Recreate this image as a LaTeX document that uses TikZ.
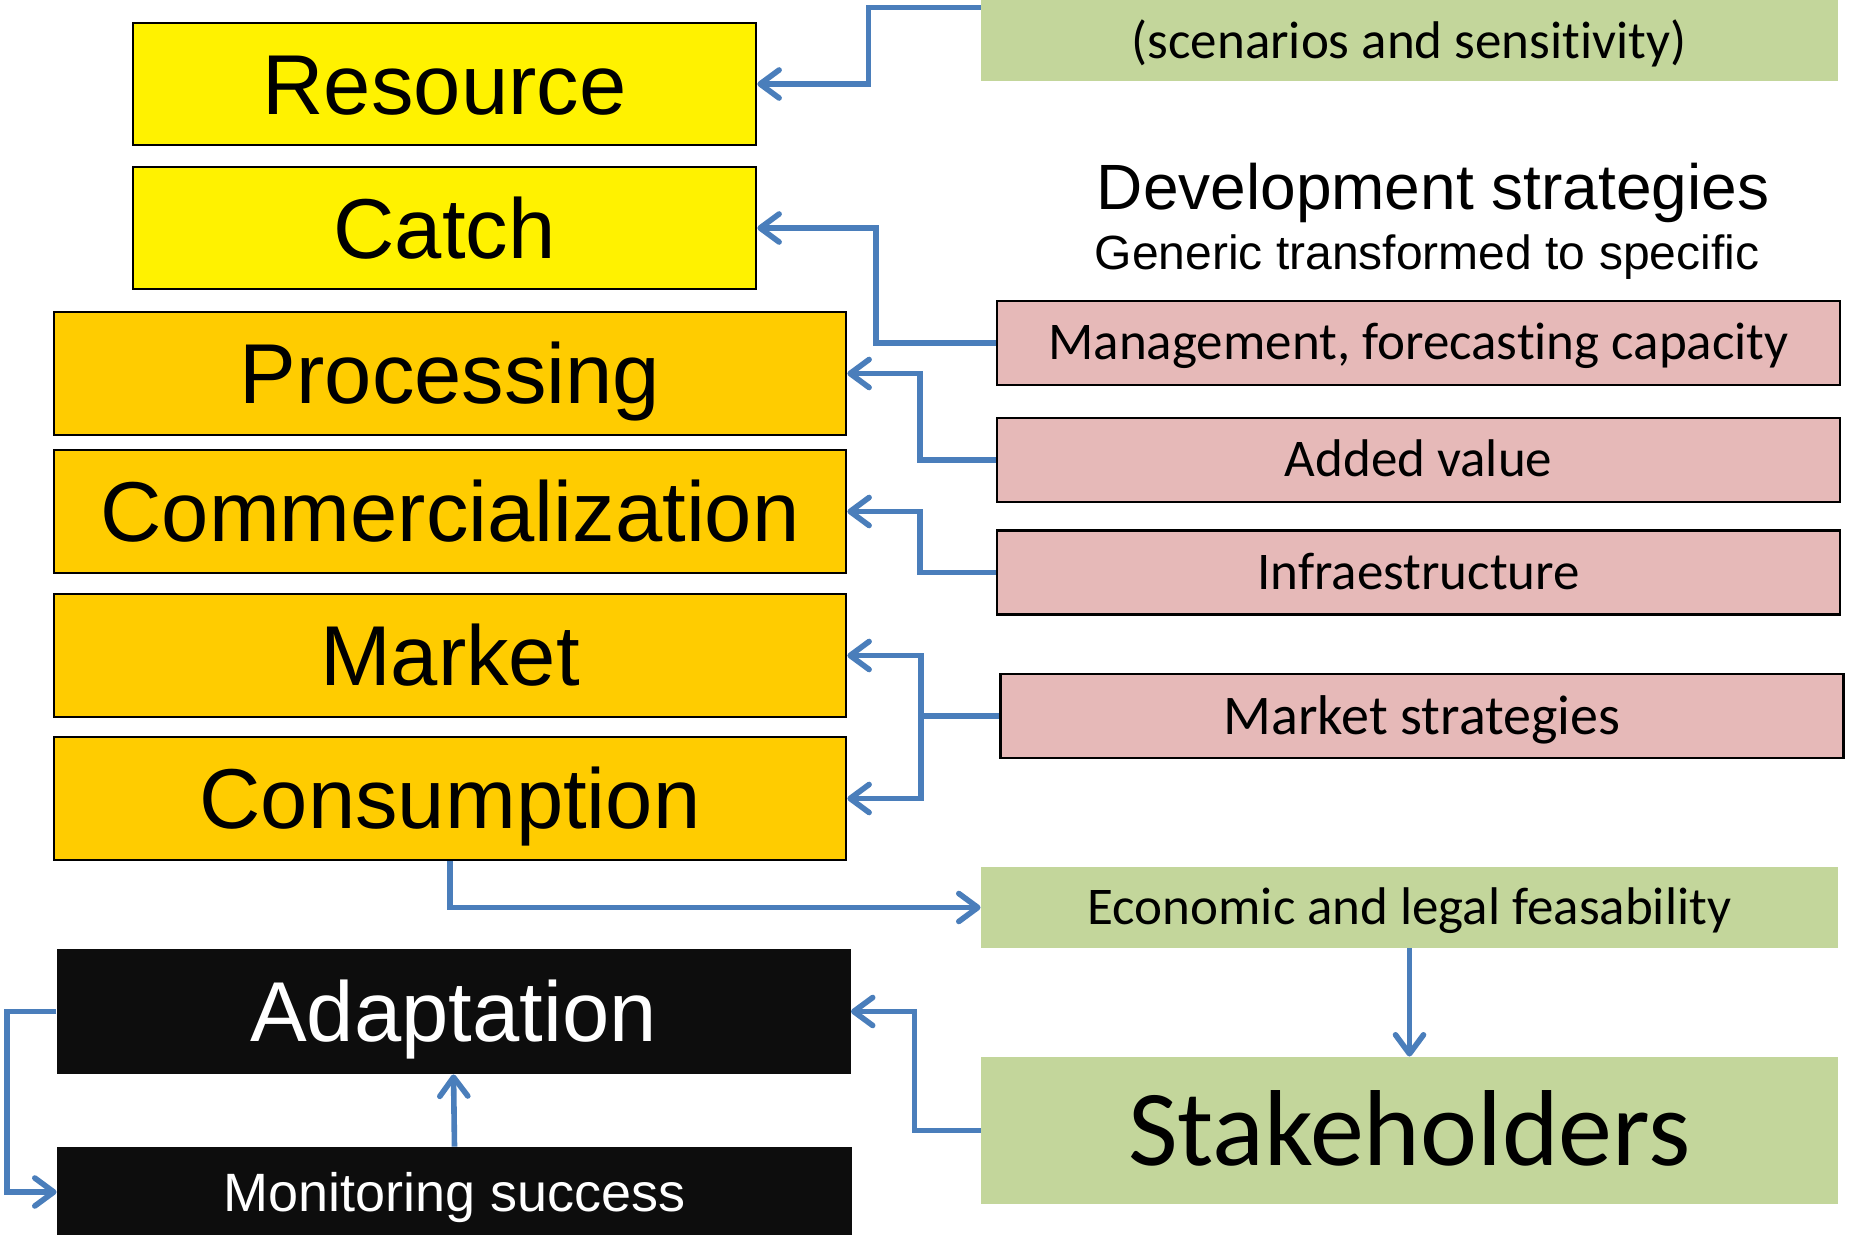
\documentclass[tikz,border=0pt]{standalone}
\usepackage{fontspec}
\setmainfont{Liberation Sans}
\newfontfamily\calibri[Ligatures=NoCommon]{Carlito}
\usetikzlibrary{arrows.meta}

\definecolor{stageorange}{HTML}{FFCC00}
\definecolor{stratpink}{HTML}{E6B9B8}
\definecolor{feasgreen}{HTML}{C3D69B}
\definecolor{linkblue}{HTML}{4A7EBB}
\definecolor{adaptblack}{HTML}{0D0D0D}

\tikzset{
  chainbox/.style={draw=black, line width=1.3pt, inner sep=0pt, text height=30.4pt, text depth=0pt,
    font=\fontsize{42.5}{50}\selectfont},
  catchbox/.style={chainbox, fill=yellow, minimum width=311.5pt, minimum height=61pt},
  stagebox/.style={chainbox, fill=stageorange, minimum width=396pt, minimum height=61.5pt},
  adaptbox/.style={fill=adaptblack, text=white, inner sep=0pt, text depth=0pt, minimum width=397pt},
  stratbox/.style={draw=black, line width=1.3pt, fill=stratpink, inner sep=0pt, minimum width=421.5pt,
    minimum height=42pt, text height=17pt, text depth=0pt, font=\calibri\fontsize{26.5}{32}\selectfont},
  feasbox/.style={fill=feasgreen, inner sep=0pt, minimum width=428.5pt, text depth=0pt},
  link/.style={draw=linkblue, line width=2.8pt, -{Straight Barb[length=9.5pt,width=14pt,round]}}
}

\begin{document}
\begin{tikzpicture}[x=0.5pt,y=-0.5pt]
\useasboundingbox (0,0) rectangle (1865,1235);
\clip (0,0) rectangle (1865,1235);

% value chain
\node[catchbox] (resource) at (444.5,84) {Resource};
\node[catchbox] (catch) at (444.5,228) {Catch};
\node[stagebox] (processing) at (450,373.5) {Processing};
\node[stagebox] (commerc) at (450,511.5) {Commercialization};
\node[stagebox] (market) at (450,655.5) {Market};
\node[stagebox] (consumption) at (450,798.5) {Consumption};

\node[adaptbox, minimum height=62.5pt, text height=30.4pt, font=\fontsize{42.5}{50}\selectfont] (adapt) at (453.5,1011.5) {Adaptation};
\node[adaptbox, minimum height=45pt, minimum width=397.5pt, text height=19.3pt, font=\fontsize{27}{32}\selectfont] (monitor) at (454.5,1192) {Monitoring success};

% right column
\node[feasbox, minimum height=73.5pt] (sens) at (1409.5,7.5) {};
\node[inner sep=0pt, text height=17pt, text depth=0pt, font=\calibri\fontsize{26.5}{32}\selectfont] (senstext) at (1409,42) {(scenarios and sensitivity)};

\node[text height=22.9pt, text depth=0pt, inner sep=0pt, font=\fontsize{32}{38}\selectfont] (devtitle) at (1433,187) {Development strategies};
\node[text height=17.2pt, text depth=0pt, inner sep=0pt, font=\fontsize{24}{28}\selectfont] (devsub) at (1427,252) {Generic transformed to specific};

\node[stratbox] (mgmt) at (1418.5,343) {Management, forecasting capacity};
\node[stratbox] (added) at (1418.5,460) {Added value};
\node[stratbox] (infra) at (1418.5,572.5) {Infraestructure};
\node[stratbox, text height=18pt, font=\calibri\fontsize{28}{34}\selectfont] (mstrat) at (1422,716) {Market strategies};

\node[feasbox, minimum height=40.5pt, text height=17pt, font=\calibri\fontsize{26.5}{32}\selectfont] (econ) at (1409.5,907.5) {Economic and legal feasability};
\node[feasbox, minimum height=73.5pt, text height=34.8pt, font=\calibri\fontsize{54}{64}\selectfont] (stake) at (1409.5,1130.5) {Stakeholders};

% connectors
\draw[link] (sens.west) -- ++(-112,0) |- (resource.east);
\draw[link] (mgmt.west) -- ++(-120,0) |- (catch.east);
\draw[link] (added.west) -- ++(-76,0) |- (processing.east);
\draw[link] (infra.west) -- ++(-76,0) |- (commerc.east);
\draw[link, -] (mstrat.west) -- ++(-78,0) coordinate (split);
\draw[link] (split) |- (market.east);
\draw[link] (split) |- (consumption.east);
\draw[link] (consumption.south) |- (econ.west);
\draw[link] (econ.south) -- (stake.north);
\draw[link] (stake.west) -- ++(-66,0) |- (adapt.east);
\draw[link] (monitor.north) -- (adapt.south);
\draw[link] (adapt.west) -- ++(-49,0) |- (monitor.west);
\end{tikzpicture}
\end{document}
